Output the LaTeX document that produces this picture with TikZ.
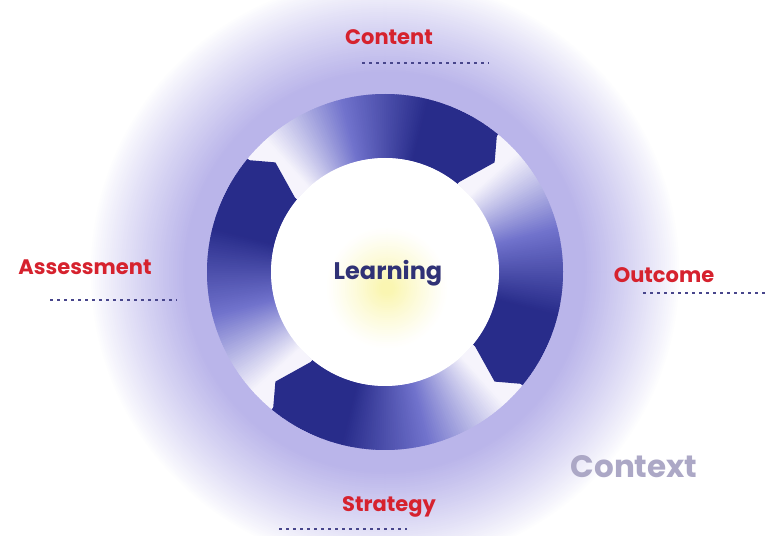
\documentclass[tikz,border=0pt]{standalone}
\usepackage{fontspec}
\setmainfont{Poppins}
\usepackage{tikz}

\definecolor{ringblue}{RGB}{40,44,138}
\definecolor{midblue}{RGB}{112,114,204}
\definecolor{tailwhite}{RGB}{246,244,252}
\definecolor{haze}{RGB}{186,181,234}
\definecolor{labelred}{RGB}{214,34,46}
\definecolor{dotblue}{RGB}{72,70,140}
\definecolor{ctxgrey}{RGB}{172,168,198}
\definecolor{glow}{RGB}{250,246,178}
\definecolor{textblue}{RGB}{48,50,118}

\begin{document}
\begin{tikzpicture}[
  x=1pt, y=1pt,
  lbl/.style={font=\bfseries\fontsize{21}{21}\selectfont, text=labelred,
              anchor=base, inner sep=0pt},
  dots/.style={dotblue, line width=2.6pt, dash pattern=on 2.6pt off 4.4pt}
]
\useasboundingbox (0,0) rectangle (767,535);

\begin{scope}[shift={(385,263)}]
  % lavender halo, fading out from the ring
  \foreach \r in {296,294,...,180}{
    \pgfmathsetmacro\p{min(100,100*((296-\r)/96)^0.9)}
    \fill[haze!\p!white] (0,0) circle (\r pt);
  }
  % four arrow segments, pale tail to dark head, clockwise
  \foreach \tip in {45,135,225,315}{
    \foreach \i in {0,...,119}{
      \pgfmathsetmacro\a{\tip+95.5-\i*0.75}
      \pgfmathsetmacro\b{max(\a-1.1,\tip+5.5)}
      \pgfmathsetmacro\u{max(0,min(100,1.33333*(\i+0.5)-15))}
      \pgfmathsetmacro\h{min(100,2*\u)}
      \pgfmathsetmacro\f{max(0,2*\u-100)}
      \fill[ringblue!\f!midblue!\h!tailwhite] (\a:114pt)
        arc[start angle=\a, end angle=\b, radius=114pt]
        -- (\b:178pt) arc[start angle=\b, end angle=\a, radius=178pt] -- cycle;
    }
  }
  % arrow heads
  \foreach \tip in {45,135,225,315}
    \fill[ringblue] (\tip+6:114pt) -- (\tip+6:178pt) -- (\tip:155pt) -- cycle;
  \fill[white] (0,0) circle (114pt);
  % yellow glow behind the centre text
  \foreach \r in {62,60,...,2}{
    \pgfmathsetmacro\p{min(100,100*((62-\r)/55)^1.2)}
    \fill[glow!\p!white] (2,-16) circle (\r pt);
  }
\end{scope}

\node[font=\bfseries\fontsize{24}{24}\selectfont, text=textblue, anchor=base,
      inner sep=0pt] (learning) at (388,255) {Learning};

\node[lbl] (content) at (389,490) {Content};
\node[lbl] (assessment) at (85,260) {Assessment};
\node[lbl] (outcome) at (664,252) {Outcome};
\node[lbl] (strategy) at (389,24) {Strategy};
\node[font=\bfseries\fontsize{31}{31}\selectfont, text=ctxgrey, anchor=base,
      inner sep=0pt] (context) at (634,58) {Context};

% dotted underlines
\draw[dots] (362,472) -- (489,472);
\draw[dots] (50,235) -- (177,235);
\draw[dots] (643,242) -- (767,242);
\draw[dots] (279,6) -- (407,6);
\end{tikzpicture}
\end{document}
